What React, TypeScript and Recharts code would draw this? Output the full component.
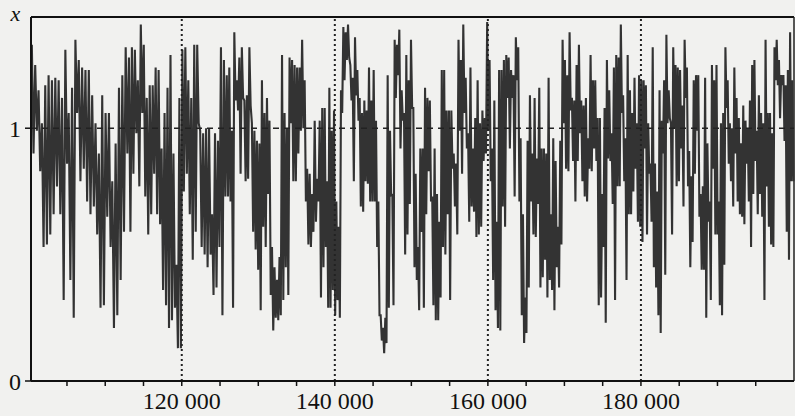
import React from "react";
import { LineChart, Line, XAxis, YAxis, ReferenceLine } from "recharts";

// time boundaries of the stretches, one per pair list below
const SEG_T = [100300, 113000, 125800, 138600, 151400, 164200, 177000, 189800, 200000];

// each pair = [upper end, lower end] of one vertical stroke
const seg1: [number, number][] = [[1.33,0.90],[1.25,0.99],[1.15,0.83],[1.02,0.53],[1.17,0.54],[1.21,0.58],[1.19,0.66],[1.20,0.77],[1.19,0.66],[1.12,0.32],[1.31,0.86],[1.06,0.40],[1.16,0.25],[1.35,1.06],[1.27,0.79],[1.24,0.84],[1.23,0.71],[1.23,0.66],[1.13,0.69],[1.02,0.58],[0.90,0.29],[1.13,0.30],[1.06,0.65],[1.06,0.53],[0.79,0.21],[0.94,0.26],[1.16,0.40],[1.21,0.59],[1.32,0.90]];
const seg2: [number, number][] = [[1.28,0.59],[1.32,0.82],[1.31,0.98],[1.19,0.77],[1.41,1.06],[1.33,0.73],[1.12,0.58],[1.17,0.66],[1.17,0.82],[1.24,0.66],[1.23,0.62],[0.92,0.36],[1.06,0.30],[1.16,0.21],[1.29,0.24],[0.90,0.29],[0.46,0.13],[1.12,0.13],[1.31,0.75],[1.32,0.82],[1.19,0.66],[1.12,0.48],[1.33,0.59],[1.33,1.02],[0.99,0.53],[0.98,0.50],[1.00,0.45],[1.00,0.50],[0.66,0.34],[0.98,0.37],[0.95,0.53],[1.32,0.26],[1.27,0.73]];
const seg3: [number, number][] = [[1.21,0.73],[1.24,0.71],[0.99,0.29],[1.38,1.11],[1.19,1.07],[1.28,0.82],[1.32,1.12],[1.11,0.79],[1.13,0.80],[1.32,1.09],[1.02,0.59],[0.99,0.52],[0.95,0.44],[0.94,0.28],[1.19,0.61],[1.06,0.53],[1.12,0.74],[1.03,0.34],[0.53,0.20],[0.45,0.25],[0.40,0.24],[0.49,0.26],[1.29,0.32],[1.06,0.45],[1.00,0.34],[1.28,1.02],[1.27,0.79],[1.25,0.79],[1.24,0.90],[1.24,0.99],[1.35,1.00],[1.19,0.71],[0.84,0.54],[0.82,0.53],[0.74,0.59],[1.03,0.63],[0.80,0.71],[1.03,0.33],[1.08,0.45]];
const seg4: [number, number][] = [[1.08,0.53],[0.79,0.29],[1.16,0.29],[0.99,0.36],[1.07,0.26],[0.71,0.32],[0.61,0.25],[1.15,1.06],[1.40,1.19],[1.38,1.27],[1.41,1.28],[1.25,1.11],[1.20,0.79],[1.36,1.13],[1.23,1.03],[1.12,0.69],[1.06,0.67],[1.11,0.79],[1.07,0.78],[1.24,0.71],[1.11,0.71],[1.23,0.71],[1.03,0.53],[0.71,0.26],[0.26,0.16],[0.21,0.11],[0.25,0.15],[1.21,0.29],[0.99,0.73],[0.74,0.30],[1.35,1.12],[1.33,1.21],[1.39,0.92],[1.15,1.03],[1.06,0.50],[1.29,0.58],[1.19,0.70],[1.35,1.08],[1.08,0.45],[0.82,0.40],[0.53,0.28],[0.92,0.59]];
const seg5: [number, number][] = [[0.92,0.29],[1.16,0.66],[1.12,0.83],[1.11,0.71],[0.73,0.30],[0.92,0.24],[0.74,0.24],[0.63,0.33],[1.23,0.53],[1.23,0.50],[1.07,0.66],[1.07,0.32],[1.07,0.84],[0.90,0.69],[0.86,0.58],[1.35,0.99],[1.27,0.82],[1.41,1.06],[1.20,0.92],[0.98,0.63],[1.24,0.69],[0.92,0.67],[1.04,0.57],[1.19,0.58],[1.02,0.61],[1.07,0.87],[1.04,0.90],[1.42,0.99],[1.27,0.79],[0.92,0.40],[1.11,0.28],[0.63,0.21],[1.23,0.20],[1.23,0.69],[1.27,0.61],[1.29,1.12],[1.28,0.92],[1.23,1.12],[1.21,0.73],[1.36,1.19],[1.32,0.71]];
const seg6: [number, number][] = [[0.96,0.26],[0.66,0.15],[0.33,0.19],[0.95,0.37],[1.13,0.71],[0.90,0.58],[1.12,0.57],[0.88,0.70],[1.16,0.37],[0.92,0.41],[0.92,0.48],[0.90,0.33],[1.20,0.40],[0.66,0.36],[0.96,0.28],[0.87,0.45],[0.61,0.37],[0.95,0.54],[1.35,1.02],[1.27,0.84],[1.21,0.83],[1.38,1.07],[1.12,0.87],[1.11,0.71],[1.25,0.87],[1.33,0.98],[1.11,0.79],[1.09,0.73],[1.12,0.71],[0.96,0.84],[1.29,0.83],[1.19,0.92],[1.19,0.87],[1.04,0.30],[1.04,0.33],[0.74,0.53],[1.08,0.23],[1.27,0.88],[1.15,0.87],[0.98,0.70],[1.24,0.32],[1.29,0.77]];
const seg7: [number, number][] = [[1.28,0.77],[1.41,1.06],[1.13,0.79],[0.96,0.40],[1.29,0.66],[1.15,0.66],[1.06,0.75],[1.20,0.84],[1.02,0.63],[1.21,0.61],[1.19,0.55],[1.19,0.92],[1.17,0.58],[1.02,0.82],[0.86,0.63],[1.32,0.45],[0.86,0.37],[0.75,0.26],[1.15,0.19],[1.03,0.90],[1.19,0.42],[1.37,1.02],[1.15,1.04],[1.02,0.58],[1.32,1.00],[1.25,0.77],[1.24,0.79],[1.23,0.92],[1.09,0.69],[1.35,1.12],[1.24,0.77],[0.91,0.45],[0.81,0.55],[1.19,0.82],[1.21,0.99],[1.21,0.65],[0.74,0.44],[0.77,0.44],[1.20,0.25],[0.94,0.63],[0.71,0.32],[1.25,0.84],[1.19,0.58]];
const seg8: [number, number][] = [[1.25,0.58],[0.71,0.30],[1.02,0.26],[1.06,0.46],[1.32,1.08],[1.19,0.86],[1.02,0.79],[1.00,0.69],[1.24,0.90],[1.12,0.71],[1.04,0.66],[0.94,0.65],[1.09,0.62],[1.03,0.86],[1.00,0.71],[1.11,0.53],[1.25,0.74],[1.27,0.87],[0.99,0.66],[1.13,0.74],[1.06,0.65],[1.02,0.32],[1.35,0.77],[1.06,0.61],[1.06,0.54],[0.98,0.53],[1.32,1.19],[1.35,1.17],[1.27,1.04],[1.21,1.17],[1.21,0.95],[1.17,0.59],[1.23,0.48],[1.38,0.79],[1.19,0.79]];

const SEGS = [seg1, seg2, seg3, seg4, seg5, seg6, seg7, seg8];

const X_TICKS = [105000, 110000, 115000, 120000, 125000, 130000, 135000, 140000, 145000, 150000, 155000, 160000, 165000, 170000, 175000, 180000, 185000, 190000, 195000];
const MARK_T = [120000, 140000, 160000, 180000];
const Y_MAX = 1.44;

// zigzag: upper end then lower end of each stroke, spread evenly over its stretch
const data: { t: number; x: number }[] = [];
SEGS.forEach((seg, k) => {
  const t0 = SEG_T[k];
  const dt = (SEG_T[k + 1] - t0) / (seg.length * 2);
  seg.forEach(([hi, lo], i) => {
    data.push({ t: t0 + (2 * i + 0.5) * dt, x: hi });
    data.push({ t: t0 + (2 * i + 1.5) * dt, x: lo });
  });
});

const FONT = "Liberation Serif, Times New Roman, DejaVu Serif, serif";

function fmtX(v: number) {
  return v % 20000 === 0 && v < 200000 ? `${v / 1000} 000` : "";
}

const axisText = { fill: "#111", fontSize: 24, fontFamily: FONT };

export default function App() {
  return (
    <div style={{ position: "fixed", left: 0, top: 0, width: 795, height: 416, background: "#f1f1ef", fontFamily: FONT }}>
      <LineChart width={795} height={416} data={data} margin={{ top: 17, right: 1, bottom: 0, left: 0 }}>
        <XAxis
          dataKey="t"
          type="number"
          domain={[100300, 200000]}
          ticks={X_TICKS}
          interval={0}
          tickFormatter={fmtX}
          height={35}
          tickSize={5}
          tickMargin={6}
          axisLine={{ stroke: "#111", strokeWidth: 2 }}
          tickLine={{ stroke: "#111", strokeWidth: 1.5 }}
          tick={axisText}
        />
        <YAxis
          type="number"
          domain={[0, Y_MAX]}
          ticks={[0, 1]}
          width={31}
          tickSize={6}
          tickMargin={4}
          axisLine={{ stroke: "#111", strokeWidth: 2 }}
          tickLine={{ stroke: "#111", strokeWidth: 1.5 }}
          tick={axisText}
          label={{ value: "x", position: "top", offset: -4, fill: "#111", fontSize: 22, fontStyle: "italic", fontFamily: FONT }}
        />
        <ReferenceLine y={Y_MAX} stroke="#111" strokeWidth={2} />
        <ReferenceLine x={200000} stroke="#222" strokeWidth={1.5} />
        <Line
          type="linear"
          dataKey="x"
          stroke="#333"
          strokeWidth={2.1}
          dot={false}
          activeDot={false}
          isAnimationActive={false}
        />
        <ReferenceLine y={1} stroke="#222" strokeWidth={1.6} strokeDasharray="6 5" />
        {MARK_T.map((t) => (
          <ReferenceLine key={t} x={t} stroke="#222" strokeWidth={2} strokeDasharray="2 3" />
        ))}
      </LineChart>
    </div>
  );
}
